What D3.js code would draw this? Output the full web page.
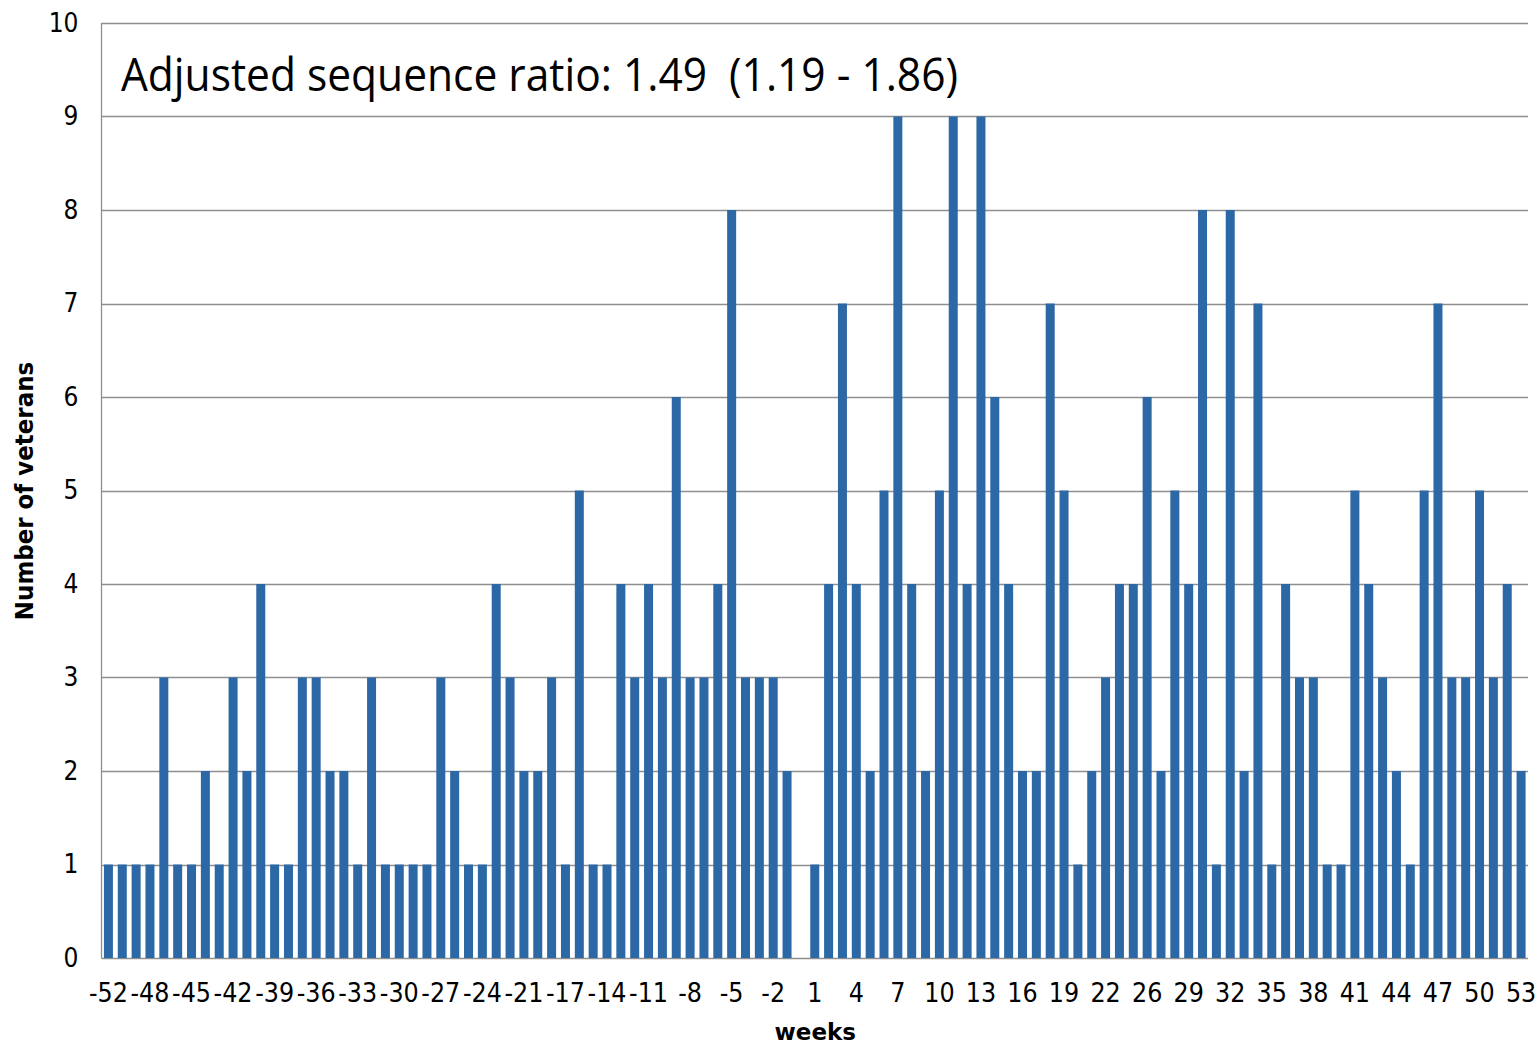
<!DOCTYPE html>
<html>
<head>
<meta charset="utf-8">
<script src="https://cdn.jsdelivr.net/npm/d3@7"></script>
<style>
  html, body { margin: 0; padding: 0; background: #fff; }
  svg { display: block; }
</style>
</head>
<body>
<svg id="chart" width="1537" height="1045"></svg>
<script>
// Weeks relative to the index date (week 0 included as an empty slot)
const weeks = [
  -52, -51, -50, -48, -47, -46, -45, -44, -43, -42, -41, -40, -39, -38, -37, -36, -35, -34,
  -33, -32, -31, -30, -29, -28, -27, -26, -25, -24, -23, -22, -21, -20, -18, -17, -16, -15,
  -14, -13, -12, -11, -10, -9, -8, -7, -6, -5, -4, -3, -2, -1, 0, 1, 2, 3,
  4, 5, 6, 7, 8, 9, 10, 11, 12, 13, 14, 15, 16, 17, 18, 19, 20, 21,
  22, 23, 25, 26, 27, 28, 29, 30, 31, 32, 33, 34, 35, 36, 37, 38, 39, 40,
  41, 42, 43, 44, 45, 46, 47, 48, 49, 50, 51, 52, 53
];

// Number of veterans per week
const veterans = [
  1, 1, 1, 1, 3, 1, 1, 2, 1, 3, 2, 4, 1, 1, 3, 3, 2, 2, 1, 3, 1, 1, 1, 1, 3, 2, 1, 1,
  4, 3, 2, 2, 3, 1, 5, 1, 1, 4, 3, 4, 3, 6, 3, 3, 4, 8, 3, 3, 3, 2, 0, 1, 4, 7, 4, 2,
  5, 9, 4, 2, 5, 9, 4, 9, 6, 4, 2, 2, 7, 5, 1, 2, 3, 4, 4, 6, 2, 5, 4, 8, 1, 8, 2,
  7, 1, 4, 3, 3, 1, 1, 5, 4, 3, 2, 1, 5, 7, 3, 3, 5, 3, 4, 2
];

// Week labels printed under the axis
const tickWeeks = [-52, -48, -45, -42, -39, -36, -33, -30, -27, -24, -21, -17, -14, -11, -8, -5, -2,
  1, 4, 7, 10, 13, 16, 19, 22, 26, 29, 32, 35, 38, 41, 44, 47, 50, 53];

const yTicks = [0, 1, 2, 3, 4, 5, 6, 7, 8, 9, 10];

const annotation = "Adjusted sequence ratio: 1.49\u00A0\u00A0(1.19 - 1.86)";

const svg = d3.select("#chart");
const plot = { left: 101.5, right: 1528, top: 23, bottom: 958 };

const x = d3.scaleBand()
  .domain(weeks)
  .range([plot.left, plot.right])
  .paddingInner(0.35)
  .paddingOuter(0.175);

const y = d3.scaleLinear().domain([0, 10]).range([plot.bottom, plot.top]);

// Horizontal gridlines
svg.append("g")
  .selectAll("line")
  .data(yTicks)
  .join("line")
  .attr("x1", plot.left)
  .attr("x2", plot.right)
  .attr("y1", d => Math.round(y(d)) + 0.5)
  .attr("y2", d => Math.round(y(d)) + 0.5)
  .attr("stroke", "#8f8f8f")
  .attr("stroke-width", 1.3);

// Bars
svg.append("g")
  .selectAll("rect")
  .data(weeks.map((w, i) => ({ week: w, n: veterans[i] })))
  .join("rect")
  .attr("x", d => x(d.week))
  .attr("width", x.bandwidth())
  .attr("y", d => y(d.n))
  .attr("height", d => y(0) - y(d.n))
  .attr("fill", "#2d68a6");

// Vertical axis line
svg.append("line")
  .attr("x1", plot.left).attr("x2", plot.left)
  .attr("y1", plot.top).attr("y2", plot.bottom + 0.5)
  .attr("stroke", "#8f8f8f").attr("stroke-width", 1.3);

const tickFont = "'DejaVu Sans Condensed', 'DejaVu Sans', sans-serif";

// Y tick labels
const yAxis = d3.axisLeft(y).tickValues(yTicks).tickSize(0).tickPadding(23);
const gy = svg.append("g").attr("transform", `translate(${plot.left},0)`).call(yAxis);
gy.select(".domain").remove();
gy.selectAll("text")
  .attr("font-family", tickFont)
  .attr("font-stretch", "condensed")
  .attr("font-size", 26)
  .attr("fill", "#000");

// X tick labels
const xAxis = d3.axisBottom(x).tickValues(tickWeeks).tickSize(0).tickPadding(25)
  .tickFormat(d => String(d).replace("\u2212", "-"));
const gx = svg.append("g").attr("transform", `translate(0,${plot.bottom})`).call(xAxis);
gx.select(".domain").remove();
gx.selectAll("text")
  .attr("font-family", tickFont)
  .attr("font-stretch", "condensed")
  .attr("font-size", 26.5)
  .attr("fill", "#000");

// Axis titles
svg.append("text")
  .attr("x", (plot.left + plot.right) / 2 + 0.5)
  .attr("y", 1040)
  .attr("text-anchor", "middle")
  .attr("font-family", "'DejaVu Sans', sans-serif")
  .attr("font-weight", "bold")
  .attr("font-size", 23)
  .text("weeks");

svg.append("text")
  .attr("transform", "translate(33,491) rotate(-90)")
  .attr("text-anchor", "middle")
  .attr("font-family", tickFont)
  .attr("font-stretch", "condensed")
  .attr("font-weight", "bold")
  .attr("font-size", 25.5)
  .text("Number of veterans");

// Ratio annotation inside the plot
svg.append("text")
  .attr("x", 121)
  .attr("y", 91)
  .attr("font-family", "'Open Sans', 'Noto Sans', sans-serif")
  .attr("font-size", 46)
  .attr("textLength", 837)
  .attr("lengthAdjust", "spacingAndGlyphs")
  .attr("fill", "#000")
  .text(annotation);
</script>
</body>
</html>
